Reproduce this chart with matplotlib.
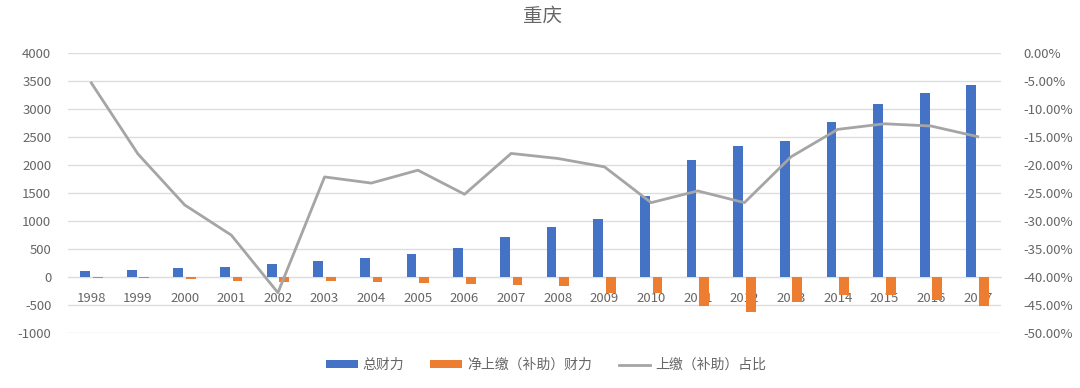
import matplotlib
matplotlib.use("Agg")
import matplotlib.pyplot as plt
import numpy as np
from matplotlib.ticker import FuncFormatter, MultipleLocator
from matplotlib.patches import Patch
from matplotlib.lines import Line2D

plt.rcParams['font.family'] = ['Noto Sans CJK SC', 'DejaVu Sans']
plt.rcParams['axes.unicode_minus'] = False

title = "重庆"
years = ["1998", "1999", "2000", "2001", "2002", "2003", "2004", "2005", "2006", "2007",
         "2008", "2009", "2010", "2011", "2012", "2013", "2014", "2015", "2016", "2017"]
total_fin = [115, 120, 160, 180, 230, 285, 340, 410, 515, 710,
             895, 1030, 1450, 2085, 2345, 2430, 2770, 3085, 3285, 3430]
net_transfer = [-20, -15, -30, -65, -95, -65, -80, -100, -125, -140,
                -160, -280, -280, -520, -620, -440, -320, -320, -410, -520]
ratio = [-0.053, -0.180, -0.271, -0.325, -0.428, -0.221, -0.232, -0.209, -0.252, -0.179,
         -0.188, -0.203, -0.267, -0.246, -0.267, -0.185, -0.136, -0.126, -0.130, -0.149]
legend_labels = ["总财力", "净上缴（补助）财力", "上缴（补助）占比"]

c_blue = "#4472C4"
c_orange = "#ED7D31"
c_gray = "#A5A5A5"
c_text = "#666666"
c_grid = "#DDDDDD"

W, H = 1080, 388
fig = plt.figure(figsize=(W / 100, H / 100), dpi=100)
left, right, top, bottom = 68, 1001, 53.3, 333
ax = fig.add_axes([left / W, 1 - bottom / H, (right - left) / W, (bottom - top) / H])

x = np.arange(len(years))
bw = 0.21
off = 0.135
ax.bar(x - off, total_fin, width=bw, color=c_blue, zorder=3)
ax.bar(x + off, net_transfer, width=bw, color=c_orange, zorder=3)

ax.set_xlim(-0.5, len(years) - 0.5)
ax.set_ylim(-1000, 4000)
ax.yaxis.set_major_locator(MultipleLocator(500))
ax.yaxis.set_major_formatter(FuncFormatter(lambda v, p: f"{int(round(v))}"))
ax.grid(axis='y', color=c_grid, linewidth=1.0, zorder=0)
ax.set_axisbelow(True)
for s in ['top', 'right', 'left']:
    ax.spines[s].set_visible(False)
ax.spines['bottom'].set_position(('data', 0))
ax.spines['bottom'].set_color(c_grid)
ax.spines['bottom'].set_zorder(1)
ax.set_xticks(x)
ax.set_xticklabels(years)
ax.tick_params(axis='x', length=0, pad=11, labelsize=9.5, labelcolor=c_text)
ax.tick_params(axis='y', length=0, pad=12, labelsize=9.5, labelcolor=c_text)

ax2 = ax.twinx()
ax2.plot(x, ratio, color=c_gray, linewidth=2.0, zorder=4, solid_joinstyle='round')
ax2.set_ylim(-0.5, 0.0)
ax2.yaxis.set_major_locator(MultipleLocator(0.05))
def pct(v, p):
    s = f"{v * 100:.2f}%"
    if s == "-0.00%":
        s = "0.00%"
    return s
ax2.yaxis.set_major_formatter(FuncFormatter(pct))
ax2.tick_params(axis='y', length=0, pad=16, labelsize=9.5, labelcolor=c_text)
for s in ax2.spines.values():
    s.set_visible(False)

fig.text(542 / W, 1 - 16 / H, title, ha='center', va='center', fontsize=14, color=c_text)

handles = [Patch(facecolor=c_blue, edgecolor='none'),
           Patch(facecolor=c_orange, edgecolor='none'),
           Line2D([0], [0], color=c_gray, linewidth=2.0)]
leg = fig.legend(handles, legend_labels, loc='center', bbox_to_anchor=(546 / W, 1 - 365 / H),
                 ncol=3, frameon=False, fontsize=10, handlelength=2.3, handleheight=0.5,
                 handletextpad=0.35, columnspacing=1.9, labelcolor=c_text)

fig.savefig("out.png", dpi=100, facecolor='white')
